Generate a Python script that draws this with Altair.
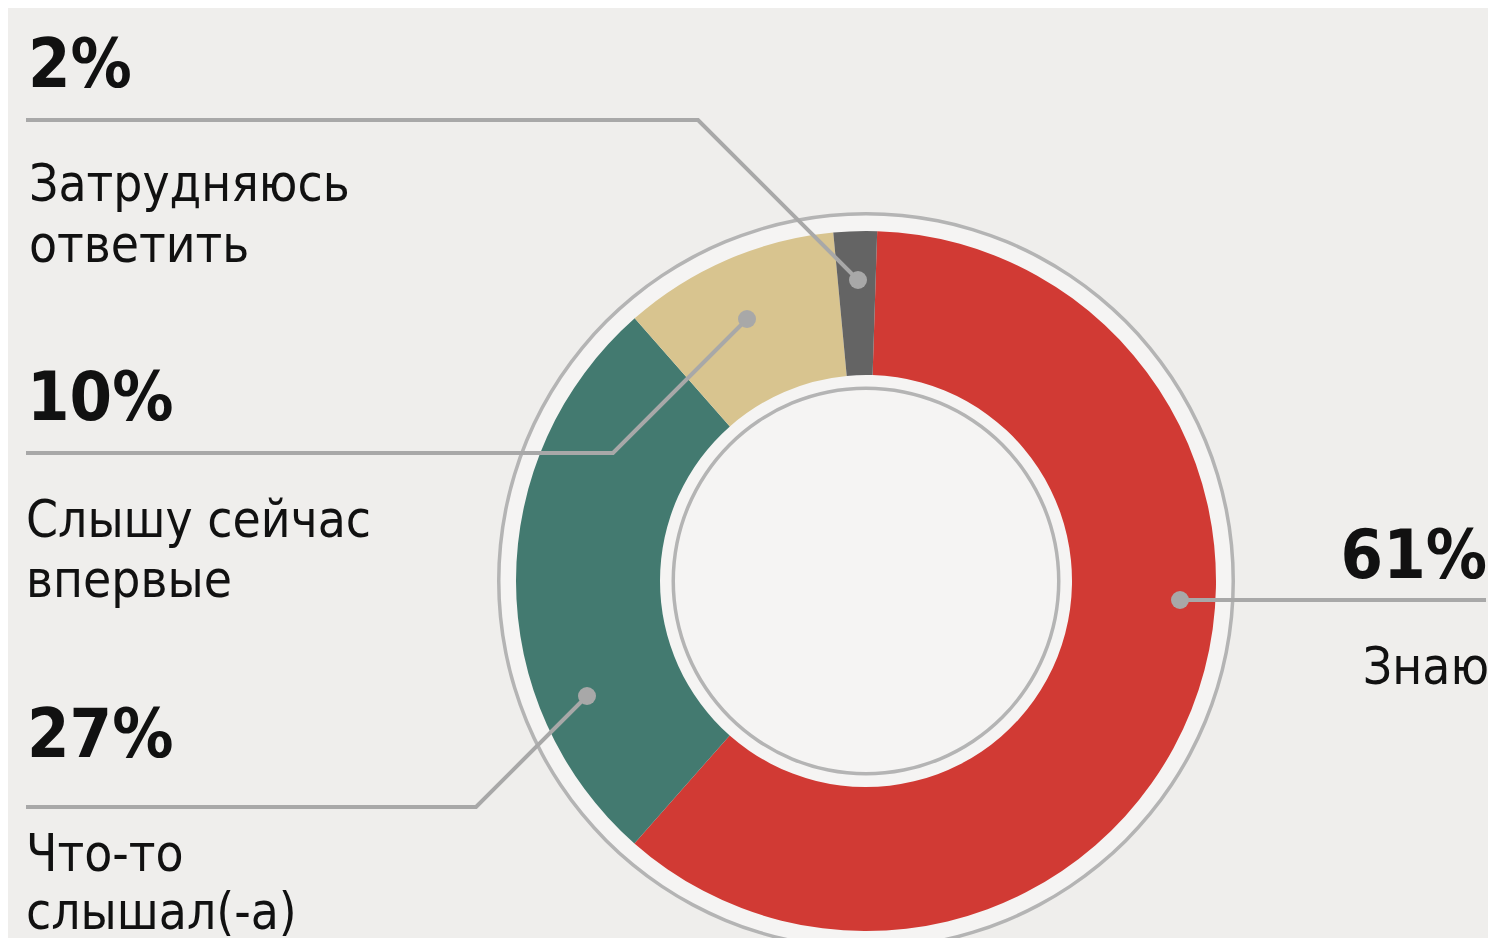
import math
import altair as alt
import pandas as pd

# ---------------- data ----------------
categories = ["Знаю", "Что-то слышал(-а)", "Слышу сейчас впервые", "Затрудняюсь ответить"]
shares = [61, 27, 10, 2]
slice_order = [1, 2, 3, 4]
colors = ["#d13a34", "#437a70", "#d8c48f", "#646464"]

# percent labels (left column + right)
pct_text = ["2%", "10%", "27%"]
pct_x = [20, 19, 19]
pct_y = [79, 412, 749]
pct_right_text = ["61%"]
pct_right_x = [1479]
pct_right_y = [570]

# category label lines
lab_text = ["Затрудняюсь", "ответить", "Слышу сейчас", "впервые", "Что-то", "слышал(-а)"]
lab_x = [21, 21, 18, 18, 18, 18]
lab_y = [193, 254, 529, 589, 863, 921]
lab_right_text = ["Знаю"]
lab_right_x = [1481]
lab_right_y = [676]

# leader lines (view coordinates)
lead_group = ["a", "a", "a", "b", "b", "b", "c", "c", "c", "d", "d"]
lead_step = [0, 1, 2, 0, 1, 2, 0, 1, 2, 0, 1]
lead_x = [18, 690, 850, 18, 605, 739, 18, 468, 579, 1172, 1478]
lead_y = [112, 112, 272, 445, 445, 311, 799, 799, 688, 592, 592]
dot_x = [850, 739, 579, 1172]
dot_y = [272, 311, 688, 592]

W, H = 1480, 930
center_x = [858]
center_y = [573]
START = 0.032

FONT = "Liberation Sans Narrow, DejaVu Sans Condensed, Roboto, sans-serif"
GREY_LINE = "#a8a8a8"

xs = alt.Scale(domain=[0, W], range=[0, W], nice=False, zero=False)
ys = alt.Scale(domain=[0, H], range=[0, H], nice=False, zero=False)

center_df = pd.DataFrame({"cx": center_x, "cy": center_y})
pie_df = pd.DataFrame({
    "cat": categories, "share": shares, "ord": slice_order,
    "cx": center_x * 4, "cy": center_y * 4,
})
lead_df = pd.DataFrame({"g": lead_group, "s": lead_step, "x": lead_x, "y": lead_y})
dot_df = pd.DataFrame({"x": dot_x, "y": dot_y})
pct_df = pd.DataFrame({"t": pct_text, "x": pct_x, "y": pct_y})
pctr_df = pd.DataFrame({"t": pct_right_text, "x": pct_right_x, "y": pct_right_y})
lab_df = pd.DataFrame({"t": lab_text, "x": lab_x, "y": lab_y})
labr_df = pd.DataFrame({"t": lab_right_text, "x": lab_right_x, "y": lab_right_y})

cx_enc = alt.X("cx:Q", scale=xs, axis=None)
cy_enc = alt.Y("cy:Q", scale=ys, axis=None)
x_enc = alt.X("x:Q", scale=xs, axis=None)
y_enc = alt.Y("y:Q", scale=ys, axis=None)

TAU = 2 * math.pi

disc = alt.Chart(center_df).mark_arc(
    radius=368, theta=0, theta2=TAU, color="#f5f4f3"
).encode(x=cx_enc, y=cy_enc)

outer_ring = alt.Chart(center_df).mark_arc(
    radius=369, radius2=365.5, theta=0, theta2=TAU, color="#b4b4b4"
).encode(x=cx_enc, y=cy_enc)

inner_ring = alt.Chart(center_df).mark_arc(
    radius=194.5, radius2=191, theta=0, theta2=TAU, color="#b4b4b4"
).encode(x=cx_enc, y=cy_enc)

donut = alt.Chart(pie_df).mark_arc(radius=350, radius2=206).encode(
    x=cx_enc, y=cy_enc,
    theta=alt.Theta("share:Q", stack=True, scale=alt.Scale(range=[START, START + TAU])),
    color=alt.Color("cat:N", scale=alt.Scale(domain=categories, range=colors), legend=None),
    order=alt.Order("ord:Q"),
)

leaders = alt.Chart(lead_df).mark_line(color=GREY_LINE, strokeWidth=4, strokeCap="butt", strokeJoin="miter").encode(
    x=x_enc, y=y_enc, detail="g:N", order="s:Q"
)

dots = alt.Chart(dot_df).mark_circle(size=324, color=GREY_LINE, opacity=1).encode(x=x_enc, y=y_enc)

pct = alt.Chart(pct_df).mark_text(
    font=FONT, fontSize=68, fontWeight="bold", align="left", baseline="alphabetic", color="#111111"
).encode(x=x_enc, y=y_enc, text="t:N")

pctr = alt.Chart(pctr_df).mark_text(
    font=FONT, fontSize=68, fontWeight="bold", align="right", baseline="alphabetic", color="#111111"
).encode(x=x_enc, y=y_enc, text="t:N")

lab = alt.Chart(lab_df).mark_text(
    font=FONT, fontSize=51, align="left", baseline="alphabetic", color="#111111"
).encode(x=x_enc, y=y_enc, text="t:N")

labr = alt.Chart(labr_df).mark_text(
    font=FONT, fontSize=51, align="right", baseline="alphabetic", color="#111111"
).encode(x=x_enc, y=y_enc, text="t:N")

chart = alt.layer(
    disc, outer_ring, donut, inner_ring, leaders, dots, pct, pctr, lab, labr
).properties(
    width=W, height=H, padding=0, autosize=alt.AutoSizeParams(type="none"),
    background="#efeeec",
).configure_view(stroke=None)

chart.save("out.html", embed_options={"renderer": "svg", "actions": False})
